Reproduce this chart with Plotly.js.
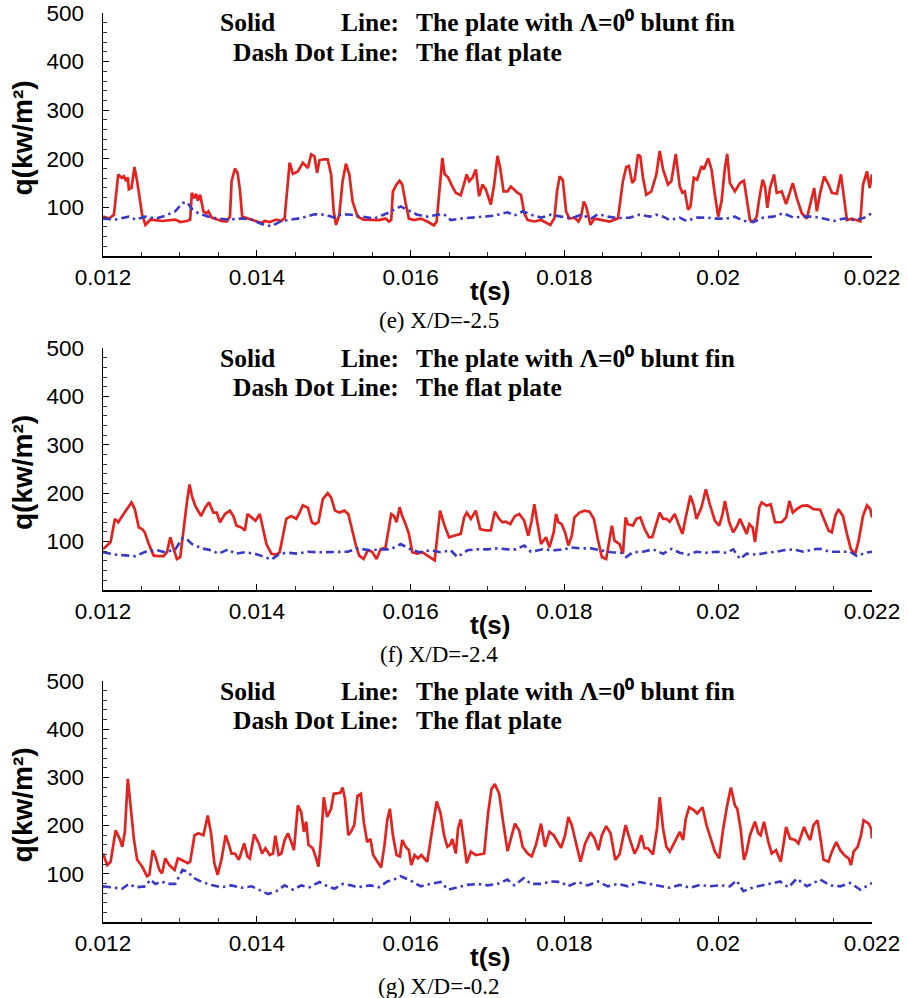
<!DOCTYPE html>
<html>
<head>
<meta charset="utf-8">
<script src="https://cdn.plot.ly/plotly-3.0.1.min.js"></script>
<style>html,body{margin:0;padding:0;background:#fff;}#chart{width:908px;height:998px;}</style>
</head>
<body>
<div id="chart"></div>
<script>
// ---- data: [t (s), q (kW/m^2)] ----
const panelCaptions = ["(e) X/D=-2.5", "(f) X/D=-2.4", "(g) X/D=-0.2"];
const xTickVals = [0.012, 0.014, 0.016, 0.018, 0.020, 0.022];
const xTickText = ["0.012", "0.014", "0.016", "0.018", "0.02", "0.022"];
const yTickVals = [100, 200, 300, 400, 500];
const yTickText = ["100", "200", "300", "400", "500"];
const seriesNames = ["The plate with \u039B=0\u00B0 blunt fin", "The flat plate"];

const finE = [[0.012000,81],[0.012078,77],[0.012142,85],[0.012198,168],[0.012241,161],[0.012272,164],[0.012302,154],[0.012323,162],[0.012336,137],[0.012371,140],[0.012409,183],[0.012444,154],[0.012509,85],[0.012552,64],[0.012616,75],[0.012767,72],[0.012940,75],[0.013004,70],[0.013091,72],[0.013134,75],[0.013155,130],[0.013185,119],[0.013211,128],[0.013233,114],[0.013263,126],[0.013306,92],[0.013349,88],[0.013371,92],[0.013414,79],[0.013543,72],[0.013608,71],[0.013651,81],[0.013672,154],[0.013716,180],[0.013750,171],[0.013780,137],[0.013810,81],[0.013888,77],[0.013974,71],[0.014060,68],[0.014103,72],[0.014168,70],[0.014254,75],[0.014319,72],[0.014362,78],[0.014397,137],[0.014427,192],[0.014470,169],[0.014534,174],[0.014599,192],[0.014664,181],[0.014707,209],[0.014750,205],[0.014784,171],[0.014815,197],[0.014871,199],[0.014922,199],[0.014966,168],[0.015000,92],[0.015030,64],[0.015073,85],[0.015116,154],[0.015159,190],[0.015203,168],[0.015246,112],[0.015310,81],[0.015388,75],[0.015587,74],[0.015674,77],[0.015717,71],[0.015748,74],[0.015770,133],[0.015817,147],[0.015857,155],[0.015891,147],[0.015935,109],[0.015978,77],[0.016043,74],[0.016130,77],[0.016217,71],[0.016304,63],[0.016339,71],[0.016383,154],[0.016413,202],[0.016443,168],[0.016487,162],[0.016530,147],[0.016587,130],[0.016652,125],[0.016696,147],[0.016730,168],[0.016761,154],[0.016804,161],[0.016848,178],[0.016891,123],[0.016935,147],[0.016978,137],[0.017043,106],[0.017087,147],[0.017130,206],[0.017165,181],[0.017209,133],[0.017261,133],[0.017304,143],[0.017391,130],[0.017435,126],[0.017478,88],[0.017522,74],[0.017609,71],[0.017696,74],[0.017761,68],[0.017817,64],[0.017870,78],[0.017904,133],[0.017939,164],[0.017978,157],[0.018022,92],[0.018065,77],[0.018130,79],[0.018183,71],[0.018217,81],[0.018252,112],[0.018283,102],[0.018339,64],[0.018391,77],[0.018478,74],[0.018587,71],[0.018696,77],[0.018761,154],[0.018804,183],[0.018839,185],[0.018883,150],[0.018913,157],[0.018957,209],[0.018987,205],[0.019022,161],[0.019065,126],[0.019130,133],[0.019196,168],[0.019239,216],[0.019283,178],[0.019348,147],[0.019391,154],[0.019448,210],[0.019500,143],[0.019535,130],[0.019565,133],[0.019609,95],[0.019639,102],[0.019683,161],[0.019726,157],[0.019783,185],[0.019813,178],[0.019870,201],[0.019913,178],[0.019957,126],[0.020000,81],[0.020043,112],[0.020087,181],[0.020117,210],[0.020152,150],[0.020217,133],[0.020283,150],[0.020335,155],[0.020370,119],[0.020413,74],[0.020457,70],[0.020500,81],[0.020535,119],[0.020578,157],[0.020609,143],[0.020639,99],[0.020674,140],[0.020726,168],[0.020761,130],[0.020826,133],[0.020883,107],[0.020970,150],[0.021022,119],[0.021087,88],[0.021152,77],[0.021196,109],[0.021248,140],[0.021283,92],[0.021326,130],[0.021378,164],[0.021435,147],[0.021478,130],[0.021543,128],[0.021596,168],[0.021622,137],[0.021674,74],[0.021739,77],[0.021848,71],[0.021883,147],[0.021935,174],[0.021970,140],[0.022000,168]];

const flatE = [[0.012000,77],[0.012164,75],[0.012336,81],[0.012422,75],[0.012552,81],[0.012681,77],[0.012810,83],[0.012940,92],[0.013034,109],[0.013091,111],[0.013155,97],[0.013241,88],[0.013371,81],[0.013500,77],[0.013629,75],[0.013802,77],[0.013931,75],[0.014060,66],[0.014190,61],[0.014319,72],[0.014448,75],[0.014578,78],[0.014750,86],[0.014879,85],[0.015009,79],[0.015095,86],[0.015224,85],[0.015353,81],[0.015522,77],[0.015696,88],[0.015826,99],[0.015870,102],[0.015957,95],[0.016087,85],[0.016217,81],[0.016348,85],[0.016435,86],[0.016522,74],[0.016652,77],[0.016783,79],[0.016913,81],[0.017087,83],[0.017261,90],[0.017348,83],[0.017457,92],[0.017565,85],[0.017696,79],[0.017826,85],[0.017957,81],[0.018087,77],[0.018217,85],[0.018348,77],[0.018435,86],[0.018565,81],[0.018696,78],[0.018848,79],[0.018978,85],[0.019109,81],[0.019196,85],[0.019283,81],[0.019370,74],[0.019500,79],[0.019587,72],[0.019717,79],[0.019848,79],[0.019978,77],[0.020109,77],[0.020217,81],[0.020326,72],[0.020457,70],[0.020587,79],[0.020717,81],[0.020848,88],[0.020978,79],[0.021109,81],[0.021239,81],[0.021370,77],[0.021500,72],[0.021630,77],[0.021761,74],[0.021891,78],[0.022000,88]];

const finF = [[0.012000,84],[0.012099,99],[0.012155,147],[0.012198,140],[0.012250,153],[0.012315,167],[0.012371,181],[0.012414,167],[0.012466,129],[0.012509,126],[0.012543,119],[0.012595,95],[0.012659,71],[0.012724,70],[0.012789,70],[0.012832,78],[0.012875,109],[0.012918,85],[0.012961,64],[0.013004,68],[0.013047,126],[0.013091,181],[0.013125,218],[0.013155,195],[0.013198,174],[0.013276,153],[0.013328,170],[0.013379,181],[0.013435,160],[0.013478,160],[0.013522,140],[0.013586,157],[0.013651,164],[0.013694,153],[0.013737,133],[0.013802,129],[0.013845,123],[0.013879,157],[0.013931,150],[0.013983,143],[0.014039,157],[0.014082,123],[0.014125,95],[0.014190,75],[0.014254,73],[0.014297,78],[0.014341,112],[0.014384,147],[0.014448,153],[0.014513,147],[0.014556,160],[0.014599,175],[0.014664,170],[0.014716,140],[0.014759,136],[0.014802,140],[0.014858,188],[0.014922,200],[0.014966,191],[0.015017,164],[0.015073,160],[0.015138,164],[0.015190,157],[0.015233,126],[0.015289,92],[0.015332,71],[0.015388,64],[0.015443,82],[0.015500,79],[0.015557,64],[0.015609,84],[0.015674,88],[0.015717,133],[0.015748,157],[0.015783,153],[0.015817,140],[0.015857,171],[0.015891,153],[0.015935,136],[0.015978,116],[0.016022,78],[0.016087,75],[0.016152,78],[0.016217,71],[0.016283,64],[0.016313,61],[0.016348,112],[0.016383,164],[0.016435,136],[0.016500,109],[0.016565,112],[0.016652,116],[0.016696,150],[0.016730,160],[0.016783,147],[0.016848,164],[0.016904,126],[0.016978,123],[0.017043,123],[0.017096,162],[0.017152,147],[0.017196,140],[0.017239,141],[0.017296,136],[0.017357,153],[0.017413,157],[0.017478,143],[0.017530,112],[0.017574,143],[0.017609,177],[0.017652,136],[0.017696,95],[0.017761,109],[0.017804,88],[0.017861,119],[0.017891,157],[0.017922,140],[0.017965,136],[0.018009,119],[0.018052,92],[0.018096,112],[0.018130,150],[0.018196,160],[0.018261,164],[0.018326,162],[0.018383,147],[0.018435,105],[0.018487,68],[0.018543,64],[0.018587,109],[0.018617,133],[0.018652,102],[0.018717,95],[0.018761,75],[0.018796,150],[0.018826,136],[0.018891,133],[0.018935,147],[0.018987,150],[0.019043,126],[0.019100,109],[0.019143,109],[0.019196,136],[0.019239,160],[0.019283,147],[0.019326,147],[0.019370,141],[0.019435,157],[0.019491,133],[0.019535,116],[0.019587,157],[0.019639,195],[0.019683,174],[0.019717,147],[0.019783,171],[0.019839,208],[0.019891,177],[0.019957,143],[0.020013,133],[0.020057,157],[0.020087,184],[0.020143,140],[0.020196,119],[0.020248,133],[0.020283,147],[0.020335,126],[0.020370,116],[0.020404,136],[0.020448,129],[0.020478,99],[0.020535,171],[0.020565,181],[0.020630,174],[0.020683,177],[0.020739,140],[0.020826,140],[0.020883,150],[0.020926,184],[0.020970,160],[0.021022,167],[0.021087,174],[0.021161,175],[0.021239,167],[0.021326,166],[0.021378,147],[0.021435,123],[0.021478,119],[0.021522,153],[0.021565,167],[0.021622,153],[0.021674,116],[0.021726,84],[0.021783,75],[0.021826,102],[0.021883,153],[0.021935,175],[0.021978,167],[0.022000,150]];

const flatF = [[0.012000,78],[0.012164,73],[0.012336,71],[0.012422,70],[0.012552,79],[0.012703,82],[0.012810,78],[0.012940,84],[0.013034,107],[0.013091,105],[0.013155,95],[0.013284,86],[0.013414,82],[0.013500,75],[0.013629,84],[0.013716,75],[0.013845,78],[0.013974,75],[0.014103,68],[0.014190,63],[0.014297,75],[0.014405,77],[0.014534,75],[0.014664,79],[0.014793,78],[0.014922,78],[0.015052,79],[0.015181,79],[0.015310,86],[0.015478,82],[0.015609,84],[0.015739,84],[0.015870,95],[0.016000,84],[0.016109,78],[0.016261,82],[0.016391,78],[0.016522,82],[0.016609,68],[0.016739,82],[0.016870,84],[0.017000,84],[0.017130,86],[0.017261,84],[0.017370,84],[0.017478,92],[0.017565,79],[0.017717,84],[0.017870,82],[0.018000,84],[0.018087,88],[0.018217,86],[0.018348,86],[0.018478,82],[0.018609,78],[0.018739,77],[0.018804,68],[0.018891,78],[0.019022,79],[0.019152,84],[0.019283,75],[0.019391,85],[0.019500,77],[0.019609,73],[0.019717,79],[0.019848,77],[0.019978,79],[0.020109,77],[0.020196,84],[0.020283,64],[0.020370,75],[0.020500,73],[0.020630,77],[0.020761,79],[0.020848,82],[0.020978,84],[0.021109,79],[0.021239,84],[0.021326,85],[0.021457,79],[0.021587,79],[0.021717,79],[0.021804,70],[0.021913,77],[0.022000,79]];

const finG = [[0.012000,142],[0.012056,118],[0.012099,125],[0.012164,190],[0.012216,173],[0.012250,156],[0.012284,187],[0.012323,297],[0.012358,242],[0.012401,173],[0.012444,129],[0.012509,115],[0.012573,95],[0.012603,98],[0.012647,149],[0.012681,136],[0.012733,108],[0.012767,101],[0.012810,132],[0.012862,118],[0.012931,108],[0.012974,132],[0.013017,129],[0.013060,125],[0.013103,122],[0.013134,125],[0.013190,180],[0.013241,184],[0.013306,180],[0.013362,221],[0.013405,184],[0.013448,122],[0.013491,98],[0.013543,132],[0.013595,180],[0.013638,160],[0.013672,142],[0.013716,142],[0.013767,129],[0.013836,163],[0.013879,136],[0.013909,132],[0.013966,182],[0.014026,163],[0.014069,142],[0.014112,153],[0.014168,139],[0.014211,142],[0.014241,179],[0.014284,139],[0.014319,142],[0.014362,170],[0.014405,184],[0.014448,166],[0.014483,149],[0.014534,242],[0.014578,228],[0.014612,187],[0.014642,208],[0.014672,160],[0.014728,153],[0.014772,132],[0.014802,115],[0.014836,173],[0.014871,259],[0.014914,218],[0.014966,235],[0.015000,266],[0.015086,268],[0.015116,279],[0.015147,255],[0.015190,180],[0.015224,187],[0.015267,201],[0.015310,262],[0.015353,266],[0.015391,208],[0.015435,166],[0.015478,172],[0.015513,139],[0.015565,125],[0.015617,113],[0.015661,160],[0.015696,211],[0.015730,235],[0.015770,180],[0.015817,139],[0.015861,136],[0.015891,170],[0.015935,156],[0.015978,149],[0.016009,118],[0.016052,139],[0.016096,132],[0.016139,139],[0.016183,132],[0.016217,125],[0.016283,194],[0.016339,250],[0.016391,225],[0.016435,180],[0.016478,156],[0.016513,160],[0.016543,172],[0.016587,142],[0.016617,194],[0.016652,213],[0.016687,173],[0.016730,122],[0.016783,146],[0.016848,139],[0.016891,140],[0.016957,142],[0.017009,228],[0.017052,276],[0.017096,286],[0.017152,266],[0.017209,201],[0.017261,147],[0.017304,173],[0.017357,204],[0.017413,190],[0.017457,156],[0.017522,142],[0.017574,136],[0.017630,160],[0.017696,204],[0.017748,156],[0.017804,187],[0.017861,180],[0.017913,166],[0.017957,154],[0.018009,180],[0.018052,218],[0.018096,201],[0.018152,166],[0.018209,125],[0.018270,163],[0.018339,186],[0.018391,173],[0.018443,149],[0.018487,180],[0.018543,199],[0.018600,184],[0.018661,129],[0.018717,140],[0.018796,201],[0.018848,173],[0.018913,142],[0.018957,156],[0.019000,180],[0.019043,153],[0.019087,153],[0.019152,140],[0.019204,194],[0.019239,259],[0.019283,194],[0.019326,156],[0.019370,146],[0.019435,166],[0.019500,187],[0.019543,170],[0.019578,214],[0.019622,238],[0.019683,232],[0.019726,225],[0.019796,238],[0.019848,201],[0.019913,166],[0.019957,146],[0.020013,132],[0.020065,194],[0.020117,242],[0.020165,279],[0.020217,242],[0.020248,235],[0.020291,194],[0.020335,129],[0.020370,146],[0.020413,180],[0.020478,208],[0.020522,184],[0.020552,180],[0.020596,208],[0.020652,166],[0.020696,142],[0.020752,149],[0.020813,125],[0.020848,160],[0.020883,197],[0.020935,173],[0.021000,170],[0.021043,163],[0.021117,197],[0.021161,180],[0.021196,170],[0.021239,201],[0.021291,211],[0.021326,177],[0.021370,129],[0.021435,125],[0.021478,146],[0.021535,166],[0.021587,149],[0.021639,139],[0.021696,132],[0.021726,118],[0.021761,146],[0.021813,156],[0.021857,180],[0.021891,211],[0.021957,204],[0.021987,194],[0.022000,173]];

const flatG = [[0.012000,74],[0.012121,72],[0.012250,69],[0.012336,79],[0.012422,72],[0.012552,74],[0.012616,88],[0.012681,79],[0.012767,84],[0.012832,79],[0.012940,79],[0.013034,108],[0.013091,105],[0.013198,90],[0.013284,83],[0.013414,77],[0.013543,72],[0.013672,76],[0.013802,71],[0.013931,74],[0.014060,65],[0.014147,58],[0.014254,64],[0.014362,76],[0.014470,67],[0.014578,76],[0.014685,72],[0.014815,83],[0.014922,74],[0.015009,69],[0.015116,79],[0.015224,76],[0.015310,72],[0.015478,76],[0.015587,72],[0.015696,84],[0.015783,88],[0.015870,95],[0.016000,86],[0.016130,74],[0.016261,79],[0.016391,83],[0.016487,67],[0.016609,72],[0.016739,77],[0.016870,79],[0.017000,76],[0.017130,79],[0.017261,88],[0.017348,76],[0.017470,91],[0.017565,79],[0.017696,79],[0.017826,84],[0.017957,83],[0.018043,74],[0.018174,83],[0.018304,76],[0.018435,84],[0.018565,74],[0.018696,79],[0.018826,74],[0.018978,83],[0.019109,79],[0.019196,76],[0.019370,71],[0.019500,77],[0.019630,71],[0.019761,77],[0.019891,74],[0.020022,76],[0.020152,74],[0.020239,86],[0.020326,64],[0.020457,72],[0.020587,77],[0.020717,81],[0.020804,84],[0.020913,72],[0.021022,90],[0.021152,74],[0.021326,88],[0.021457,76],[0.021587,74],[0.021717,81],[0.021848,67],[0.021957,77],[0.022000,81]];

// ---- drawing ----
const W = 908, H = 998;
const finSeries = [finE, finF, finG];
const flatSeries = [flatE, flatF, flatG];
// plot-area pixel boxes [top, bottom]
const boxes = [[13, 256], [348, 590], [681, 922]];
const xL = 103, xR = 872;
const RED = "#e2231f", BLUE = "#3a3ac8";
const sans = "Liberation Sans, Arial, sans-serif";
const serif = "Liberation Serif, Times New Roman, serif";

const traces = [];
const layout = {
  width: W, height: H,
  margin: {l: 0, r: 0, t: 0, b: 0},
  paper_bgcolor: "#fff", plot_bgcolor: "#fff",
  showlegend: false,
  font: {family: sans, color: "#000"},
  annotations: []
};
const py = p => 1 - p / H;
const px = p => p / W;

for (let i = 0; i < 3; i++) {
  const xa = i === 0 ? "x" : "x" + (i + 1);
  const ya = i === 0 ? "y" : "y" + (i + 1);
  traces.push({
    x: finSeries[i].map(p => p[0]), y: finSeries[i].map(p => p[1]),
    xaxis: xa, yaxis: ya, type: "scatter", mode: "lines", name: seriesNames[0],
    line: {color: RED, width: 2.7}
  });
  traces.push({
    x: flatSeries[i].map(p => p[0]), y: flatSeries[i].map(p => p[1]),
    xaxis: xa, yaxis: ya, type: "scatter", mode: "lines", name: seriesNames[1],
    line: {color: BLUE, width: 2.6, dash: "8px,4px,2.5px,4px"}
  });
  const [top, bot] = boxes[i];
  const xKey = i === 0 ? "xaxis" : "xaxis" + (i + 1);
  const yKey = i === 0 ? "yaxis" : "yaxis" + (i + 1);
  layout[xKey] = {
    domain: [px(xL), px(xR)], anchor: ya, range: [0.012, 0.022],
    tickmode: "array", tickvals: xTickVals, ticktext: xTickText,
    ticks: "inside", ticklen: 6, tickwidth: 1.3, tickcolor: "#000",
    minor: {dtick: 0.0005, tick0: 0.012, ticks: "inside", ticklen: 4, tickwidth: 1, tickcolor: "#333"},
    showline: true, linecolor: "#000", linewidth: 1.5,
    showgrid: false, zeroline: false,
    tickfont: {family: sans, size: 22.5, color: "#000"}
  };
  layout[yKey] = {
    domain: [py(bot), py(top)], anchor: xa, range: [0, 500],
    tickmode: "array", tickvals: yTickVals, ticktext: yTickText,
    ticks: "inside", ticklen: 6, tickwidth: 1.3, tickcolor: "#000",
    minor: {dtick: 20, tick0: 0, ticks: "inside", ticklen: 4, tickwidth: 1, tickcolor: "#333"},
    showline: true, linecolor: "#000", linewidth: 1.5,
    showgrid: false, zeroline: false, ticklabelstandoff: 13,
    tickfont: {family: sans, size: 22.5, color: "#000"}
  };
  const off = top - 13;
  const A = layout.annotations;
  // y title
  A.push({xref: "paper", yref: "paper", x: px(22), y: py((top + bot) / 2 + 4), showarrow: false,
    text: "<b>q(kw/m\u00B2)</b>", textangle: -90, xanchor: "center", yanchor: "middle",
    font: {family: sans, size: 28, color: "#000"}});
  // x title
  A.push({xref: "paper", yref: "paper", x: px(490), y: py(bot + 35), showarrow: false,
    text: "<b>t(s)</b>", xanchor: "center", yanchor: "middle",
    font: {family: sans, size: 26, color: "#000"}});
  // caption
  A.push({xref: "paper", yref: "paper", x: px(439), y: py(bot + 64), showarrow: false,
    text: panelCaptions[i], xanchor: "center", yanchor: "middle",
    font: {family: serif, size: 23, color: "#000"}});
  // legend text
  const lf = {family: serif, size: 25.5, color: "#000"};
  A.push({xref: "paper", yref: "paper", x: px(218), y: py(23 + off), showarrow: false,
    text: "<b>Solid</b>", xanchor: "left", yanchor: "middle", font: lf});
  A.push({xref: "paper", yref: "paper", x: px(401), y: py(23 + off), showarrow: false,
    text: "<b>Line:</b>", xanchor: "right", yanchor: "middle", font: lf});
  A.push({xref: "paper", yref: "paper", x: px(414), y: py(23 + off), showarrow: false,
    text: "<b>The plate with \u039B=0\u2070 blunt fin</b>", xanchor: "left", yanchor: "middle", font: lf});
  A.push({xref: "paper", yref: "paper", x: px(401), y: py(52 + off), showarrow: false,
    text: "<b>Dash Dot Line:</b>", xanchor: "right", yanchor: "middle", font: lf});
  A.push({xref: "paper", yref: "paper", x: px(414), y: py(52 + off), showarrow: false,
    text: "<b>The flat plate</b>", xanchor: "left", yanchor: "middle", font: lf});
}

Plotly.newPlot("chart", traces, layout, {staticPlot: true, displayModeBar: false});
</script>
</body>
</html>
